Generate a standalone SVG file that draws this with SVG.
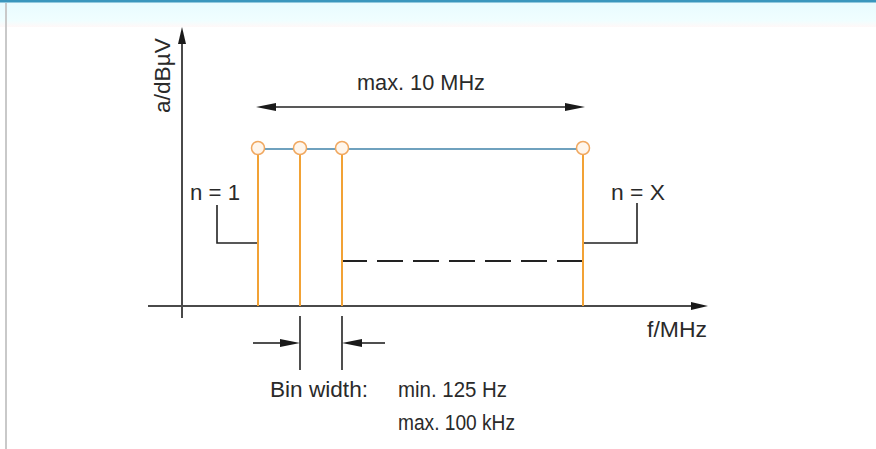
<svg xmlns="http://www.w3.org/2000/svg" width="876" height="449" viewBox="0 0 876 449">
<defs>
<style>
.t{font-family:"Liberation Sans",Arial,sans-serif;fill:#2a2a2a;font-size:22px}
.ax{stroke:#4a4a4a;stroke-width:2;fill:none}
.blk{stroke:#222;stroke-width:1.6;fill:none}
.ln{stroke:#f2a235;stroke-width:2;fill:none}
.pt{stroke:#f0a860;stroke-width:1.5;fill:#fff6ec}
.ah{fill:#1a1a1a}
</style>
<linearGradient id="band" x1="0" y1="0" x2="0" y2="1">
<stop offset="0" stop-color="#e8fbff"/>
<stop offset="0.75" stop-color="#f0feff"/>
<stop offset="1" stop-color="#fff8f8"/>
</linearGradient>
</defs>
<rect width="876" height="449" fill="#fff"/>
<rect x="0" y="2" width="876" height="25" fill="url(#band)"/>
<rect x="0" y="0" width="876" height="2.5" fill="#3a96bd"/>
<rect x="5" y="3" width="2" height="446" fill="#c9c9c9"/>

<g id="axes">
<line class="ax" x1="182" y1="40" x2="182" y2="318"/>
<polygon class="ah" points="182,27 178,44 186,44"/>
<line class="ax" x1="148" y1="306" x2="694" y2="306"/>
<polygon class="ah" points="708,306 691,302 691,310"/>
<text class="t" transform="translate(170,113) rotate(-90)" textLength="75" lengthAdjust="spacingAndGlyphs">a/dBµV</text>
<text class="t" x="647" y="337" textLength="60" lengthAdjust="spacingAndGlyphs">f/MHz</text>
</g>

<g id="span">
<line class="blk" x1="270" y1="107" x2="572" y2="107"/>
<polygon class="ah" points="256,107 276,103 276,111"/>
<polygon class="ah" points="585,107 565,103 565,111"/>
<text class="t" x="357" y="90" textLength="128" lengthAdjust="spacingAndGlyphs">max. 10 MHz</text>
</g>

<g id="connectors">
<line x1="258" y1="149" x2="583" y2="149" stroke="#3f82a8" stroke-width="1.6"/>
<line x1="583" y1="261" x2="342" y2="261" stroke="#222" stroke-width="1.8" stroke-dasharray="26 10"/>
<polyline class="blk" points="217,205 217,243 258,243"/>
<polyline class="blk" points="637,203 637,243 583,243"/>
</g>

<g id="bin1"><line class="ln" x1="258" y1="155" x2="258" y2="306"/><circle class="pt" cx="258" cy="148" r="6.5"/></g>
<g id="bin2"><line class="ln" x1="300" y1="155" x2="300" y2="306"/><circle class="pt" cx="300" cy="148" r="6.5"/></g>
<g id="bin3"><line class="ln" x1="342" y1="155" x2="342" y2="306" stroke="#f0a070"/><circle class="pt" cx="342" cy="148" r="6.5"/></g>
<g id="binX"><line class="ln" x1="583" y1="155" x2="583" y2="306"/><circle class="pt" cx="583" cy="148" r="6.5"/></g>

<g id="labels">
<text class="t" x="190" y="200" font-size="19" textLength="50" lengthAdjust="spacingAndGlyphs">n = 1</text>
<text class="t" x="611" y="200" font-size="19" textLength="54" lengthAdjust="spacingAndGlyphs">n = X</text>
</g>

<g id="binwidth">
<line class="blk" x1="300" y1="316" x2="300" y2="370"/>
<line class="blk" x1="342" y1="316" x2="342" y2="370"/>
<line class="blk" x1="253" y1="343" x2="285" y2="343"/>
<polygon class="ah" points="300,343 280,339 280,347"/>
<line class="blk" x1="385" y1="343" x2="357" y2="343"/>
<polygon class="ah" points="342,343 362,339 362,347"/>
<text class="t" x="270" y="397" textLength="98" lengthAdjust="spacingAndGlyphs">Bin width:</text>
<text class="t" x="398" y="397" textLength="109" lengthAdjust="spacingAndGlyphs">min. 125 Hz</text>
<text class="t" x="398" y="430" textLength="117" lengthAdjust="spacingAndGlyphs">max. 100 kHz</text>
</g>
</svg>
